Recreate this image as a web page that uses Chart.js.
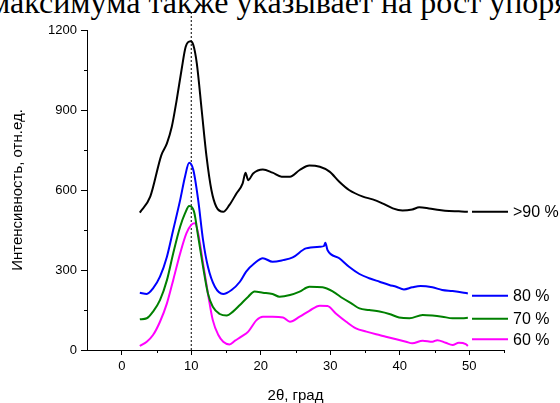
<!DOCTYPE html>
<html>
<head>
<meta charset="utf-8">
<script src="https://cdn.jsdelivr.net/npm/chart.js@4"></script>
<style>
    html, body { margin: 0; padding: 0; background: #fff; overflow: hidden; }
    #wrap { position: relative; width: 560px; height: 403px; }
    #caption {
        position: absolute; left: -10px; top: -14px; white-space: nowrap;
        font-family: "Liberation Serif", "Times New Roman", serif;
        font-size: 32px; line-height: 32px; color: #000;
    }
    canvas { position: absolute; left: 0; top: 0; }
</style>
</head>
<body>
<div id="wrap">
    <div id="caption">максимума также указывает на рост упорядоченности</div>
    <canvas id="xrd_chart" width="560" height="403"></canvas>
</div>
<script>
// diffractograms, 2theta in degrees, intensity in rel. units
const angles90 = [2.6, 4.1, 5.7, 6.5, 7.2, 7.9, 8.6, 9.2, 9.9, 10.3, 10.8, 11.5, 12.2, 12.9, 13.6, 14.6, 15.5, 16.5, 17.4, 17.8, 18.2, 18.9, 20.3, 21.7, 23.0, 24.2, 25.6, 27.0, 28.5, 29.9, 31.3, 32.7, 34.7, 36.1, 37.5, 39.0, 40.4, 41.8, 42.8, 44.2, 45.7, 47.1, 48.5, 49.8];
const values90 = [515, 575, 731, 775, 837, 937, 1050, 1137, 1158, 1144, 1075, 900, 725, 600, 537, 518, 544, 587, 625, 665, 637, 662, 677, 665, 650, 650, 675, 692, 687, 669, 631, 600, 575, 565, 550, 531, 523, 527, 535, 531, 525, 521, 520, 518];

const angles80 = [2.6, 3.6, 4.5, 5.5, 6.5, 7.4, 8.4, 9.1, 9.7, 10.3, 11.0, 11.7, 12.4, 13.4, 14.6, 15.8, 17.0, 17.9, 19.1, 20.3, 21.7, 23.2, 24.6, 26.5, 28.5, 29.1, 29.3, 29.6, 31.3, 32.7, 34.2, 35.6, 37.1, 38.5, 39.5, 40.6, 41.8, 43.0, 44.7, 46.1, 47.6, 49.0, 49.8];
const values80 = [215, 210, 231, 275, 350, 450, 562, 650, 702, 675, 562, 412, 312, 237, 210, 225, 256, 294, 325, 344, 331, 337, 347, 381, 387, 390, 402, 375, 344, 312, 285, 269, 256, 244, 237, 227, 235, 240, 235, 225, 221, 216, 212];

const angles70 = [2.6, 3.6, 4.5, 5.5, 6.5, 7.4, 8.4, 9.1, 9.7, 10.4, 11.0, 11.7, 12.4, 13.1, 14.1, 15.1, 16.0, 17.0, 18.2, 19.1, 20.3, 21.7, 22.7, 24.2, 25.6, 27.0, 28.9, 30.4, 31.8, 33.2, 34.2, 35.6, 37.1, 38.5, 39.9, 41.4, 43.3, 44.7, 46.1, 47.6, 49.0, 49.8];
const values70 = [115, 119, 144, 187, 262, 362, 462, 512, 540, 519, 425, 312, 212, 162, 135, 129, 144, 169, 200, 219, 215, 210, 200, 206, 219, 237, 235, 219, 194, 172, 156, 150, 144, 135, 122, 119, 131, 129, 125, 119, 119, 121];

const angles60 = [2.6, 3.6, 4.5, 5.5, 6.5, 7.4, 8.4, 9.3, 10.0, 10.5, 11.0, 11.7, 12.4, 13.1, 13.9, 14.6, 15.5, 16.3, 17.2, 18.2, 19.4, 20.3, 21.7, 23.2, 24.2, 25.6, 27.0, 28.5, 29.6, 30.8, 32.3, 33.7, 35.2, 36.6, 38.0, 39.5, 40.9, 41.8, 43.3, 44.7, 45.4, 46.6, 47.6, 48.5, 49.5, 49.8];
const values60 = [15, 31, 56, 106, 175, 262, 362, 437, 469, 475, 437, 325, 212, 112, 56, 31, 21, 35, 50, 69, 112, 125, 125, 122, 106, 125, 147, 166, 165, 137, 106, 81, 69, 59, 50, 40, 31, 25, 35, 31, 37, 27, 19, 27, 22, 15];

const seriesLabels = [">90 %", "80 %", "70 %", "60 %"];
const seriesColors = ["#000000", "#0000ff", "#008000", "#ff00ff"];
const legendLevels = [518, 203, 117, 40];   // where each label sits on the intensity axis

const xTicks = [0, 10, 20, 30, 40, 50];
const xMinorTicks = [5, 15, 25, 35, 45, 55];
const yTicks = [0, 300, 600, 900, 1200];
const yMinorTicks = [150, 450, 750, 1050];
const markerAngle = 10;

function to_points(xs, ys) {
    return xs.map((x, i) => ({ x: x, y: ys[i] }));
}

const curves = [
    to_points(angles90, values90),
    to_points(angles80, values80),
    to_points(angles70, values70),
    to_points(angles60, values60)
];

// short minor ticks + right-hand labels
const extras = {
    id: "extras",
    afterDraw(chart) {
        const ctx = chart.ctx;
        const xs = chart.scales.x, ys = chart.scales.y;
        const area = chart.chartArea;
        ctx.save();
        ctx.strokeStyle = "#000";
        ctx.lineWidth = 1;
        ctx.beginPath();
        xMinorTicks.forEach(v => {
            const px = Math.round(xs.getPixelForValue(v)) + 0.5;
            ctx.moveTo(px, area.bottom);
            ctx.lineTo(px, area.bottom + 3);
        });
        yMinorTicks.forEach(v => {
            const py = Math.round(ys.getPixelForValue(v)) + 0.5;
            ctx.moveTo(area.left, py);
            ctx.lineTo(area.left - 3, py);
        });
        ctx.stroke();

        ctx.font = '16px "Liberation Sans", Arial, sans-serif';
        ctx.textBaseline = "middle";
        ctx.fillStyle = "#000";
        seriesLabels.forEach((label, i) => {
            const py = ys.getPixelForValue(legendLevels[i]);
            ctx.strokeStyle = seriesColors[i];
            ctx.lineWidth = 2;
            ctx.beginPath();
            ctx.moveTo(area.right - 32, py);
            ctx.lineTo(area.right + 4, py);
            ctx.stroke();
            ctx.fillText(label, area.right + 9, py + 1);
        });
        ctx.restore();
    }
};

const datasets = curves.map((pts, i) => ({
    label: seriesLabels[i],
    data: pts,
    borderColor: seriesColors[i],
    borderWidth: 2,
    pointRadius: 0,
    cubicInterpolationMode: "monotone"
}));

// dotted marker at 2theta = 10
datasets.push({
    label: "marker",
    data: [{ x: markerAngle, y: 0 }, { x: markerAngle, y: 1275 }],
    borderColor: "#000",
    borderWidth: 1,
    borderDash: [2, 2],
    pointRadius: 0,
    clip: false
});

const tickFont = { family: '"Liberation Sans", Arial, sans-serif', size: 13 };

new Chart(document.getElementById("xrd_chart"), {
    type: "line",
    data: { datasets: datasets },
    options: {
        responsive: false,
        animation: false,
        events: [],
        layout: { padding: { top: 30, right: 56, left: 0, bottom: 0 } },
        plugins: { legend: { display: false }, tooltip: { enabled: false } },
        scales: {
            x: {
                type: "linear",
                min: -5,
                max: 55,
                afterBuildTicks: (scale) => { scale.ticks = xTicks.map(v => ({ value: v })); },
                afterFit: (scale) => { scale.height = 53; },
                ticks: { color: "#000", font: tickFont, padding: 4, maxRotation: 0, callback: v => String(v) },
                grid: { drawOnChartArea: false, drawTicks: true, tickLength: 5, tickColor: "#000", color: "#000" },
                border: { display: true, color: "#000", width: 1 },
                title: {
                    display: true, text: "2θ, град", color: "#000",
                    font: { family: '"Liberation Sans", Arial, sans-serif', size: 15, lineHeight: 1 },
                    padding: 0
                }
            },
            y: {
                type: "linear",
                min: 0,
                max: 1200,
                afterBuildTicks: (scale) => { scale.ticks = yTicks.map(v => ({ value: v })); },
                afterFit: (scale) => { scale.width = 87; },
                ticks: { color: "#000", font: tickFont, padding: 4, callback: v => String(v) },
                grid: { drawOnChartArea: false, drawTicks: true, tickLength: 6, tickColor: "#000", color: "#000" },
                border: { display: true, color: "#000", width: 1 },
                title: {
                    display: true, text: "Интенсивность, отн.ед.", color: "#000",
                    font: { family: '"Liberation Sans", Arial, sans-serif', size: 15, lineHeight: 1 },
                    padding: { top: 10, bottom: 0 }
                }
            }
        }
    },
    plugins: [extras]
});
</script>
</body>
</html>
